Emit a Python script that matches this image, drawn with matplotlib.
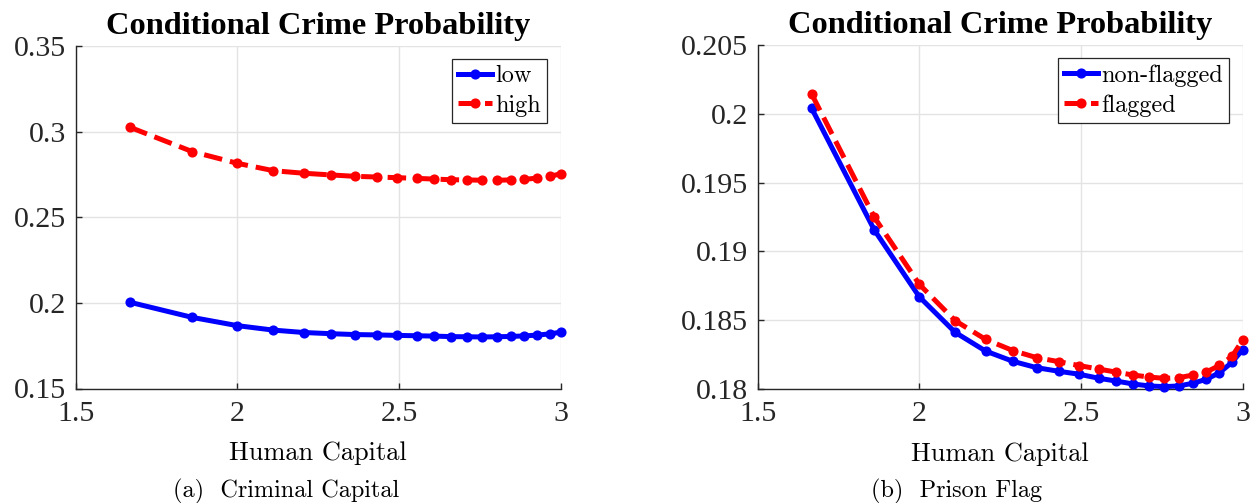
import matplotlib
matplotlib.use('Agg')
import matplotlib.pyplot as plt

# ---------------- data ----------------
human_capital = [1.667, 1.861, 2.000, 2.111, 2.205, 2.290, 2.363, 2.431, 2.495, 2.555,
                 2.608, 2.662, 2.711, 2.758, 2.802, 2.845, 2.887, 2.928, 2.967, 3.000]

low = [0.2004, 0.1915, 0.1867, 0.1841, 0.1827, 0.1820, 0.1815, 0.1813, 0.1810, 0.1808,
       0.1806, 0.1803, 0.1802, 0.1801, 0.1802, 0.1804, 0.1807, 0.1812, 0.1819, 0.1829]
high = [0.3026, 0.2883, 0.2815, 0.2772, 0.2757, 0.2747, 0.2739, 0.2735, 0.2731, 0.2727,
        0.2723, 0.2719, 0.2718, 0.2716, 0.2716, 0.2718, 0.2721, 0.2729, 0.2739, 0.2754]

non_flagged = [0.20042, 0.19155, 0.18669, 0.18410, 0.18274, 0.18199, 0.18153, 0.18127, 0.18105, 0.18076,
               0.18056, 0.18034, 0.18020, 0.18015, 0.18020, 0.18039, 0.18068, 0.18116, 0.18192, 0.18285]
flagged = [0.20146, 0.19248, 0.18760, 0.18495, 0.18359, 0.18277, 0.18226, 0.18197, 0.18168, 0.18143,
           0.18121, 0.18099, 0.18085, 0.18075, 0.18080, 0.18099, 0.18121, 0.18169, 0.18235, 0.18354]

x_ticks = [1.5, 2, 2.5, 3]
x_tick_labels = ['1.5', '2', '2.5', '3']
y_ticks_a = [0.15, 0.2, 0.25, 0.3, 0.35]
y_tick_labels_a = ['0.15', '0.2', '0.25', '0.3', '0.35']
y_ticks_b = [0.18, 0.185, 0.19, 0.195, 0.2, 0.205]
y_tick_labels_b = ['0.18', '0.185', '0.19', '0.195', '0.2', '0.205']

title = 'Conditional Crime Probability'
xlabel = 'Human Capital'
legend_a = ['low', 'high']
legend_b = ['non-flagged', 'flagged']
captions = ['(a)  Criminal Capital', '(b)  Prison Flag']

# ---------------- styling ----------------
W, H = 1252, 503
fig = plt.figure(figsize=(W / 100, H / 100), dpi=100)

TIMES = 'Liberation Serif'
CM = 'cmr10'
AX_COL = '#262626'
GRID_COL = '#e3e3e3'


def px_axes(x0, x1, ytop, ybot):
    return fig.add_axes([x0 / W, 1 - ybot / H, (x1 - x0) / W, (ybot - ytop) / H])


def style(ax, yticks, ylabels, ylim, leg_labels, s1, s2):
    ax.plot(human_capital, s1, color=(0, 0, 1), lw=3.6, marker='o', ms=6.3,
            clip_on=False, zorder=3, label=leg_labels[0])
    ax.plot(human_capital, s2, color=(1, 0, 0), lw=3.6, ls='--', marker='o', ms=6.3,
            clip_on=False, zorder=3, label=leg_labels[1])
    ax.set_xlim(1.5, 3)
    ax.set_ylim(*ylim)
    ax.set_xticks(x_ticks)
    ax.set_xticklabels(x_tick_labels, fontfamily=TIMES, fontsize=21.5)
    ax.set_yticks(yticks)
    ax.set_yticklabels(ylabels, fontfamily=TIMES, fontsize=21.5)
    ax.tick_params(direction='in', length=4, width=1, colors=AX_COL, pad=7)
    ax.tick_params(axis='x', pad=9)
    ax.grid(True, color=GRID_COL, lw=1)
    ax.set_axisbelow(True)
    for s in ('top', 'right'):
        ax.spines[s].set_visible(False)
    for s in ('left', 'bottom'):
        ax.spines[s].set_color(AX_COL)
        ax.spines[s].set_linewidth(1)
    ax.set_title(title, fontfamily=TIMES, fontweight='bold', fontsize=23.3, pad=9)
    ax.set_xlabel(xlabel, fontfamily=CM, fontsize=19)
    ax.xaxis.set_label_coords(0.5, -0.155)
    leg = ax.legend(loc='upper right', bbox_to_anchor=(0.972, 0.962), borderaxespad=0,
                    prop={'family': CM, 'size': 17.5}, numpoints=1, handlelength=1.4,
                    handletextpad=0.12, borderpad=0.25, labelspacing=0.3,
                    fancybox=False, framealpha=1, edgecolor='#262626')
    leg.get_frame().set_linewidth(0.9)


ax1 = px_axes(75.7, 560.7, 46, 388.5)
style(ax1, y_ticks_a, y_tick_labels_a, (0.15, 0.35), legend_a, low, high)

ax2 = px_axes(757.6, 1242.7, 45.3, 388.7)
style(ax2, y_ticks_b, y_tick_labels_b, (0.18, 0.205), legend_b, non_flagged, flagged)

fig.text(286 / W, 1 - 491 / H, captions[0], fontfamily=CM, fontsize=17.5,
         ha='center', va='center')
fig.text(957 / W, 1 - 491 / H, captions[1], fontfamily=CM, fontsize=17.5,
         ha='center', va='center')

fig.savefig('out.png', dpi=100)
